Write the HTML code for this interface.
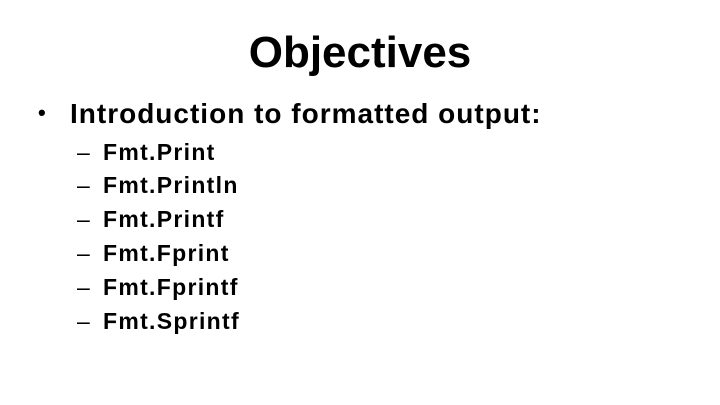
<!DOCTYPE html>
<html><head><style>
body{margin:0;width:720px;height:405px;background:#fff;position:relative;overflow:hidden;font-family:"Liberation Sans",Arial,sans-serif;font-weight:bold;color:#000}
div{position:absolute;white-space:nowrap}
.t{left:0;width:720px;text-align:center;top:28px;font-size:44px}
.b{left:38px;top:98px;font-size:28px;letter-spacing:1px}
.b i{font-style:normal;font-size:22px;position:relative;top:-3px}
.b span{position:absolute;left:32px}
.s{left:77px;font-size:23px;font-weight:normal}
.s span{position:absolute;left:26px;font-weight:bold;letter-spacing:1.3px}
</style></head><body>
<div class="t">Objectives</div>
<div class="b"><i>•</i><span>Introduction to formatted output:</span></div>
<div class="s" style="top:139px">–<span>Fmt.Print</span></div>
<div class="s" style="top:172px">–<span>Fmt.Println</span></div>
<div class="s" style="top:206px">–<span>Fmt.Printf</span></div>
<div class="s" style="top:240px">–<span>Fmt.Fprint</span></div>
<div class="s" style="top:274px">–<span>Fmt.Fprintf</span></div>
<div class="s" style="top:308px">–<span>Fmt.Sprintf</span></div>
</body></html>
